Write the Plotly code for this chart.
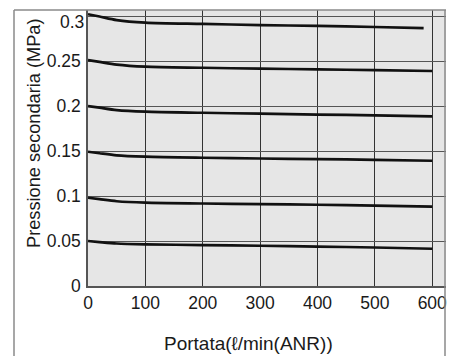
import plotly.graph_objects as go

flow = [0, 20, 50, 100, 200, 300, 400, 500, 600]
flow_top = [0, 20, 50, 100, 200, 300, 400, 500, 585]
p030 = [0.302, 0.2995, 0.2955, 0.2926, 0.2912, 0.2900, 0.2890, 0.2878, 0.2865]
p025 = [0.2511, 0.2490, 0.2460, 0.2437, 0.2425, 0.2415, 0.2408, 0.2398, 0.2389]
p020 = [0.2000, 0.1982, 0.1955, 0.1937, 0.1925, 0.1915, 0.1905, 0.1897, 0.1886]
p015 = [0.1492, 0.1475, 0.1452, 0.1437, 0.1425, 0.1417, 0.1410, 0.1402, 0.1392]
p010 = [0.0981, 0.0965, 0.0942, 0.0926, 0.0917, 0.0910, 0.0903, 0.0893, 0.0881]
p005 = [0.0500, 0.0488, 0.0472, 0.0463, 0.0455, 0.0447, 0.0438, 0.0428, 0.0414]

x_ticks = [0, 100, 200, 300, 400, 500, 600]
y_ticks = [0, 0.05, 0.1, 0.15, 0.2, 0.25, 0.3]
y_tick_text = ["0", "0.05", "0.1", "0.15", "0.2", "0.25", ""]
top_label = "0.3"

x_title = "Portata(ℓ/min(ANR))"
y_title = "Pressione secondaria (MPa)"

FONT = "Liberation Sans, Arial, sans-serif"
TXT = "#1a1a1a"

fig = go.Figure()
for xs, ys in [(flow_top, p030), (flow, p025), (flow, p020), (flow, p015), (flow, p010), (flow, p005)]:
    fig.add_trace(go.Scatter(x=xs, y=ys, mode="lines",
                             line=dict(color="#111111", width=2.7, shape="spline", smoothing=0.8),
                             showlegend=False, hoverinfo="skip"))

W, H = 455, 356
ml, mr, mt, mb = 88, 9, 10, 70
pw = W - ml - mr
ph = H - mt - mb

def px_x(p):
    return (p - ml) / pw

def px_y(p):
    return (H - mb - p) / ph

frame_color = "#8a8a8a"
shapes = [
    dict(type="line", xref="paper", yref="paper", x0=px_x(14), x1=px_x(14), y0=px_y(360), y1=px_y(10),
         line=dict(color=frame_color, width=1.5)),
    dict(type="line", xref="paper", yref="paper", x0=px_x(14), x1=px_x(446), y0=px_y(10), y1=px_y(10),
         line=dict(color=frame_color, width=1.5)),
    dict(type="line", xref="paper", yref="paper", x0=px_x(445), x1=px_x(445), y0=px_y(360), y1=px_y(10),
         line=dict(color=frame_color, width=1.5)),
]

annotations = [
    dict(text=x_title, xref="paper", yref="paper", x=px_x(248), y=px_y(343),
         xanchor="center", yanchor="middle", showarrow=False,
         font=dict(family=FONT, size=19, color=TXT)),
    dict(text=y_title, xref="paper", yref="paper", x=px_x(34), y=px_y(134),
         xanchor="center", yanchor="middle", showarrow=False, textangle=-90,
         font=dict(family=FONT, size=18.2, color=TXT)),
    dict(text=top_label, xref="paper", yref="paper", x=px_x(86), y=px_y(22),
         xanchor="right", yanchor="middle", showarrow=False,
         font=dict(family=FONT, size=17.5, color=TXT)),
]

fig.update_layout(
    width=W, height=H,
    margin=dict(l=ml, r=mr, t=mt, b=mb),
    paper_bgcolor="white",
    plot_bgcolor="#e6e6e6",
    font=dict(family=FONT, size=17.5, color=TXT),
    shapes=shapes,
    annotations=annotations,
    xaxis=dict(range=[0, 624], tickvals=x_ticks, ticktext=[str(v) for v in x_ticks],
               showgrid=True, gridcolor="#333333", gridwidth=1.3,
               showline=True, linecolor="#555555", linewidth=1.5,
               zeroline=False, ticks="", ticklabelstandoff=0, automargin=False),
    yaxis=dict(range=[0, 0.3067], tickvals=y_ticks, ticktext=y_tick_text,
               showgrid=True, gridcolor="#555555", gridwidth=1.0,
               showline=True, linecolor="#555555", linewidth=1.5,
               zeroline=False, ticks="", ticklabelstandoff=2, automargin=False),
)

fig.write_html("out.html", config={"displayModeBar": False},
               post_script="document.body.style.margin='0';document.body.style.padding='0';"
                           "document.body.style.overflow='hidden';")
